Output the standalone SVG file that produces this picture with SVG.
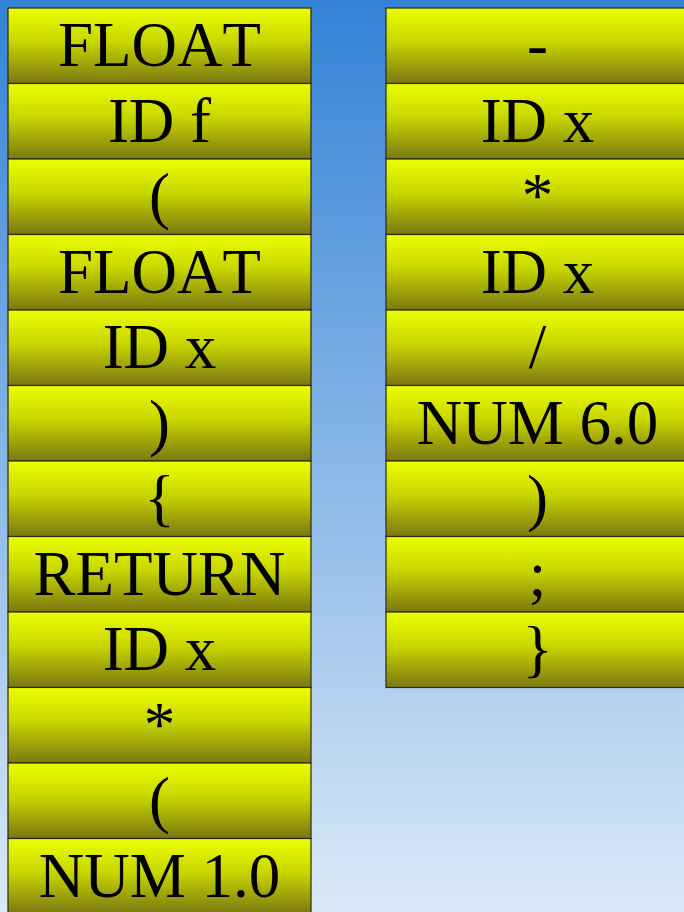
<svg xmlns="http://www.w3.org/2000/svg" width="684" height="912" viewBox="0 0 684 912">
<defs>
<linearGradient id="bg" x1="0" y1="0" x2="0" y2="1">
<stop offset="0" stop-color="#3482d6"/>
<stop offset="1" stop-color="#dbe9f7"/>
</linearGradient>
<linearGradient id="cell" x1="0" y1="0" x2="0" y2="1">
<stop offset="0" stop-color="#ecff00"/>
<stop offset="0.45" stop-color="#c8d600"/>
<stop offset="1" stop-color="#7a7812"/>
</linearGradient>
<style>
.c rect{fill:url(#cell);stroke:#2a2a10;stroke-width:1.2}
.c text{font-family:"Liberation Serif","Times New Roman",serif;font-size:63px;fill:#000;text-anchor:middle;font-kerning:none}
</style>
</defs>
<rect width="684" height="912" fill="url(#bg)"/>
<g class="c">
<g id="l1"><rect x="8" y="8" width="303" height="75.5"/><text x="159.5" y="66">FLOAT</text></g>
<g id="l2"><rect x="8" y="83.5" width="303" height="75.5"/><text x="159.5" y="141.5">ID f</text></g>
<g id="l3"><rect x="8" y="159" width="303" height="75.5"/><text x="159.5" y="217">(</text></g>
<g id="l4"><rect x="8" y="234.5" width="303" height="75.5"/><text x="159.5" y="292.5">FLOAT</text></g>
<g id="l5"><rect x="8" y="310" width="303" height="75.5"/><text x="159.5" y="368">ID x</text></g>
<g id="l6"><rect x="8" y="385.5" width="303" height="75.5"/><text x="159.5" y="443.5">)</text></g>
<g id="l7"><rect x="8" y="461" width="303" height="75.5"/><text x="159.5" y="519">{</text></g>
<g id="l8"><rect x="8" y="536.5" width="303" height="75.5"/><text x="159.5" y="594.5">RETURN</text></g>
<g id="l9"><rect x="8" y="612" width="303" height="75.5"/><text x="159.5" y="670">ID x</text></g>
<g id="l10"><rect x="8" y="687.5" width="303" height="75.5"/><text x="159.5" y="745.5">*</text></g>
<g id="l11"><rect x="8" y="763" width="303" height="75.5"/><text x="159.5" y="821">(</text></g>
<g id="l12"><rect x="8" y="838.5" width="303" height="75.5"/><text x="159.5" y="896.5">NUM 1.0</text></g>
<g id="r1"><rect x="386" y="8" width="303" height="75.5"/><text x="537.5" y="66">-</text></g>
<g id="r2"><rect x="386" y="83.5" width="303" height="75.5"/><text x="537.5" y="141.5">ID x</text></g>
<g id="r3"><rect x="386" y="159" width="303" height="75.5"/><text x="537.5" y="217">*</text></g>
<g id="r4"><rect x="386" y="234.5" width="303" height="75.5"/><text x="537.5" y="292.5">ID x</text></g>
<g id="r5"><rect x="386" y="310" width="303" height="75.5"/><text x="537.5" y="368">/</text></g>
<g id="r6"><rect x="386" y="385.5" width="303" height="75.5"/><text x="537.5" y="443.5">NUM 6.0</text></g>
<g id="r7"><rect x="386" y="461" width="303" height="75.5"/><text x="537.5" y="519">)</text></g>
<g id="r8"><rect x="386" y="536.5" width="303" height="75.5"/><text x="537.5" y="594.5">;</text></g>
<g id="r9"><rect x="386" y="612" width="303" height="75.5"/><text x="537.5" y="670">}</text></g>
</g>
<g id="connectors"/>
</svg>
